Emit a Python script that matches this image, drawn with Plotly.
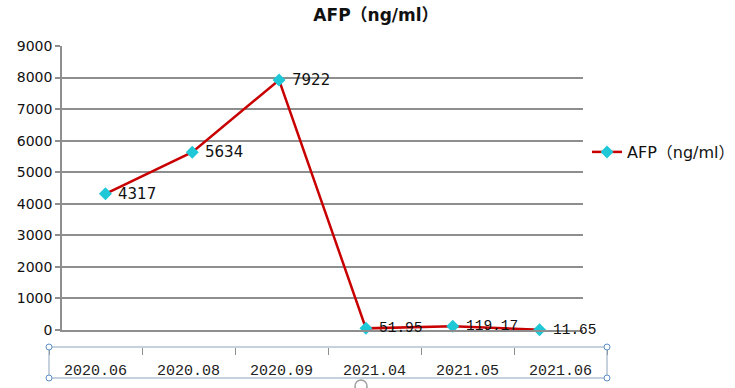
import plotly.graph_objects as go

categories = ["2020.06", "2020.08", "2020.09", "2021.04", "2021.05", "2021.06"]
values = [4317, 5634, 7922, 51.95, 119.17, 11.65]
value_labels = ["4317", "5634", "7922", "51.95", "119.17", "11.65"]
label_fonts = ["DejaVu Sans", "DejaVu Sans", "DejaVu Sans",
               "Liberation Mono", "Liberation Mono", "Liberation Mono"]
label_sizes = [15, 15, 15, 14.5, 14.5, 14.5]
series_name = "AFP（ng/ml）"
y_ticks = [0, 1000, 2000, 3000, 4000, 5000, 6000, 7000, 8000, 9000]

W, H = 735, 388
L, R, T, B = 49, 607, 46, 378          # outer plot region (pixels)
PW, PH = R - L, B - T

def px_x(p):
    return (p - L) / PW

def px_y(p):
    return (B - p) / PH

grid = "#8e8e8e"
line_red = "#c80000"
cyan = "#1ec8d6"
STRIP_TOP = 347

fig = go.Figure()
fig.add_trace(go.Scatter(
    x=categories, y=values, name=series_name,
    mode="lines+markers",
    line=dict(color=line_red, width=2.5),
    marker=dict(symbol="diamond", size=10, color=cyan),
    cliponaxis=False,
    xaxis="x", yaxis="y",
))
# helper trace for the category label strip
fig.add_trace(go.Scatter(
    x=categories, y=[0] * len(categories), mode="markers",
    marker=dict(opacity=0), showlegend=False, hoverinfo="skip",
    xaxis="x2", yaxis="y2",
))

# value labels, anchored to the data points (category index on the x axis)
for i, (val, txt, fam, sz) in enumerate(zip(values, value_labels, label_fonts, label_sizes)):
    fig.add_annotation(x=i, y=val, xref="x", yref="y", text=txt,
                       showarrow=False, xanchor="left", yanchor="middle",
                       xshift=11, yshift=0,
                       font=dict(family=fam, size=sz, color="#111"))

fig.update_layout(
    width=W, height=H,
    margin=dict(l=L, r=W - R, t=T, b=H - B, pad=0, autoexpand=False),
    paper_bgcolor="white", plot_bgcolor="white",
    title=dict(text="<b>" + series_name + "</b>", x=376 / W, xref="container",
               xanchor="center", y=1 - 15 / H, yref="container", yanchor="middle",
               font=dict(family="DejaVu Sans, Noto Sans CJK SC", size=17, color="#111")),
    xaxis=dict(domain=[px_x(62), px_x(583)], type="category",
               range=[-0.5, len(categories) - 0.5], anchor="y",
               showline=True, linecolor=grid, linewidth=1.5, automargin=False,
               showgrid=False, showticklabels=False, ticks="", zeroline=False),
    yaxis=dict(domain=[px_y(330), 1], range=[0, 9000], anchor="x",
               tickvals=y_ticks, showgrid=True, gridcolor=grid, gridwidth=1.5,
               showline=True, linecolor=grid, linewidth=1.5, automargin=False,
               ticks="outside", ticklen=5, tickcolor=grid, tickwidth=1.5,
               zeroline=False,
               tickfont=dict(family="DejaVu Sans", size=14, color="#111")),
    xaxis2=dict(domain=[0, 1], type="category", range=[-0.5, len(categories) - 0.5],
                anchor="free", position=px_y(STRIP_TOP), side="bottom", automargin=False,
                tickson="boundaries", ticks="outside", ticklen=7, tickcolor=grid,
                tickwidth=1, showline=False, showgrid=False, zeroline=False,
                ticklabelstandoff=12,
                tickfont=dict(family="Liberation Mono", size=15, color="#222")),
    yaxis2=dict(domain=[0, px_y(STRIP_TOP)], range=[0, 1], visible=False, anchor="x2"),
    showlegend=True,
    legend=dict(x=px_x(587), y=px_y(152), xanchor="left", yanchor="middle",
                bgcolor="rgba(0,0,0,0)",
                font=dict(family="DejaVu Sans, Noto Sans CJK SC", size=16, color="#111")),
)

# selection frame around the label strip
frame = "#8ea3bd"
handle = "#5a8fc8"
fig.add_shape(type="rect", xref="paper", yref="paper",
              x0=0, x1=1, y0=0, y1=px_y(STRIP_TOP), line=dict(color=frame, width=1))
for hx, hy in [(0, 0), (1, 0), (0, px_y(STRIP_TOP)), (1, px_y(STRIP_TOP))]:
    fig.add_shape(type="circle", xref="paper", yref="paper",
                  xsizemode="pixel", ysizemode="pixel", xanchor=hx, yanchor=hy,
                  x0=-3, x1=3, y0=-3, y1=3,
                  line=dict(color=handle, width=1), fillcolor="white")
fig.add_shape(type="circle", xref="paper", yref="paper",
              xsizemode="pixel", ysizemode="pixel",
              xanchor=px_x(361), yanchor=px_y(386),
              x0=-6, x1=6, y0=-6, y1=6,
              line=dict(color="#a0a0a0", width=1.5), fillcolor="rgba(0,0,0,0)")

fig.write_html("out.html", config={"displayModeBar": False},
               post_script="document.body.style.margin='0px';")
